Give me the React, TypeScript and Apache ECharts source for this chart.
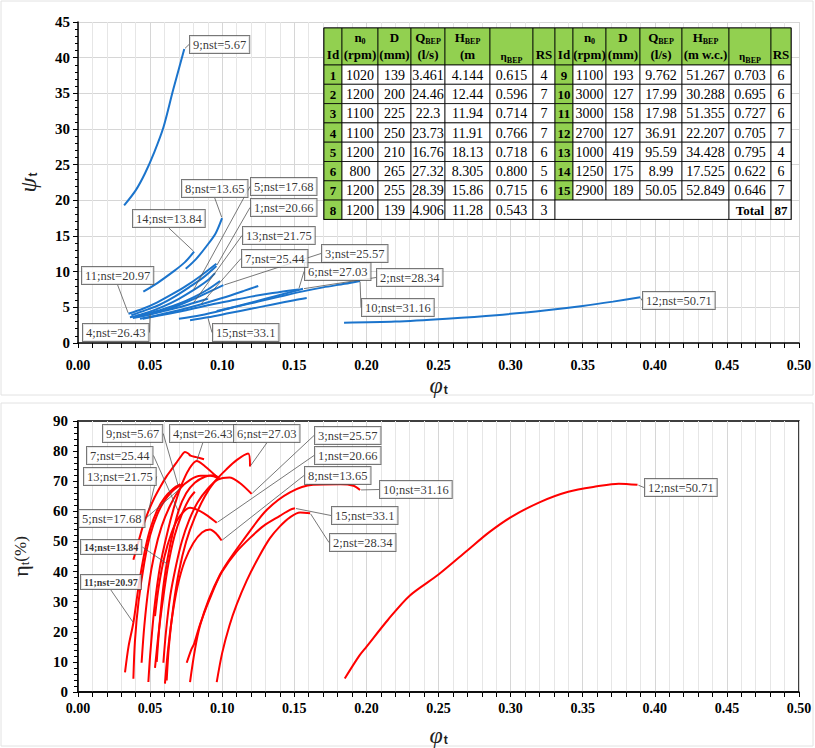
import React, { useEffect, useRef } from "react";
import * as echarts from "echarts";

// ---------------- DATA ----------------
const curveIds = [1, 2, 3, 4, 5, 6, 7, 8, 9, 10, 11, 12, 13, 14, 15];
const nstValues = ["20.66", "28.34", "25.57", "26.43", "17.68", "27.03", "25.44", "13.65", "5.67", "31.16", "20.97", "50.71", "21.75", "13.84", "33.1"];

// head coefficient psi_t vs flow coefficient phi_t
const psi1 = [[0.037, 3.9], [0.047, 4.6], [0.057, 5.4], [0.067, 6.5], [0.077, 7.8], [0.087, 9.2], [0.096, 10.8]];
const psi2 = [[0.07, 3.4], [0.085, 3.9], [0.1, 4.6], [0.115, 5.4], [0.13, 6.2], [0.145, 7.0], [0.156, 7.6]];
const psi3 = [[0.042, 3.7], [0.055, 4.3], [0.07, 5.3], [0.085, 6.6], [0.1008, 8.1]];
const psi4 = [[0.036, 3.6], [0.05, 4.2], [0.06, 4.8], [0.07, 5.5], [0.08, 6.4], [0.09, 7.5], [0.0985, 8.7]];
const psi5 = [[0.04, 3.8], [0.05, 4.4], [0.06, 5.2], [0.07, 6.2], [0.08, 7.4], [0.09, 8.8], [0.095, 9.8]];
const psi6 = [[0.045, 3.4], [0.06, 4.0], [0.075, 4.6], [0.09, 5.3], [0.105, 5.9], [0.12, 6.5], [0.135, 7.0], [0.153, 7.5]];
const psi7 = [[0.043, 3.4], [0.055, 3.9], [0.07, 4.6], [0.085, 5.4], [0.1, 6.3], [0.115, 7.3], [0.125, 8.0]];
const psi8 = [[0.0747, 10.4], [0.082, 11.8], [0.0892, 13.6], [0.0955, 15.4], [0.0999, 17.5]];
const psi9 = [[0.032, 19.3], [0.04, 21.4], [0.0465, 23.8], [0.053, 26.8], [0.0592, 30.2], [0.066, 35.5], [0.0737, 41.2]];
const psi10 = [[0.0962, 4.5], [0.11, 5.1], [0.125, 5.8], [0.14, 6.5], [0.155, 7.2], [0.17, 7.8], [0.185, 8.3], [0.1956, 8.7]];
const psi11 = [[0.035, 4.1], [0.045, 4.8], [0.055, 5.7], [0.065, 6.8], [0.075, 8.0], [0.085, 9.4], [0.096, 11.1]];
const psi12 = [[0.1845, 2.85], [0.22, 3.0], [0.2557, 3.4], [0.29, 3.9], [0.325, 4.6], [0.35, 5.2], [0.371, 5.8], [0.39, 6.4]];
const psi13 = [[0.038, 3.5], [0.05, 4.0], [0.06, 4.5], [0.07, 5.0], [0.08, 5.6], [0.09, 6.2]];
const psi14 = [[0.0453, 7.2], [0.055, 8.4], [0.066, 10.0], [0.074, 11.3], [0.0805, 12.8]];
const psi15 = [[0.0777, 3.2], [0.09, 3.6], [0.105, 4.2], [0.12, 4.8], [0.135, 5.4], [0.15, 6.0], [0.1586, 6.3]];

// efficiency eta_t (%) vs flow coefficient phi_t
const eta1 = [[0.0534, 25.2], [0.056, 35], [0.06, 45], [0.065, 53], [0.07, 58], [0.0777, 61.2], [0.085, 60], [0.09, 58.5], [0.0962, 56.2]];
const eta2 = [[0.0962, 3.3], [0.1, 13], [0.105, 22], [0.11, 29], [0.117, 37], [0.125, 44.5], [0.133, 51], [0.14, 55], [0.147, 58], [0.154, 59.6], [0.161, 59.4]];
const eta3 = [[0.0592, 9.7], [0.061, 20], [0.064, 32], [0.068, 42], [0.072, 50], [0.077, 57], [0.083, 63], [0.09, 67.5], [0.097, 70.5], [0.105, 71.2], [0.112, 69.5], [0.1204, 65.8]];
const eta4 = [[0.0488, 3.3], [0.05, 12], [0.053, 28], [0.057, 42], [0.062, 53], [0.067, 62], [0.072, 69], [0.077, 74], [0.0823, 76.7], [0.088, 75], [0.0962, 71.5]];
const eta5 = [[0.0441, 9.7], [0.046, 22], [0.049, 35], [0.053, 46], [0.058, 55], [0.064, 62], [0.0707, 67.5], [0.078, 70.5], [0.085, 71.8], [0.092, 71.8], [0.097, 71]];
const eta6 = [[0.0615, 3.8], [0.063, 15], [0.066, 28], [0.07, 40], [0.075, 50], [0.081, 58], [0.088, 65], [0.095, 70], [0.103, 74], [0.11, 77], [0.118, 79.2], [0.1193, 74.9]];
const eta7 = [[0.0546, 10], [0.057, 25], [0.06, 38], [0.064, 49], [0.0696, 60], [0.075, 66], [0.081, 69.5], [0.088, 71.5], [0.094, 72], [0.098, 71]];
const eta8 = [[0.0603, 2.8], [0.062, 12], [0.065, 24], [0.069, 35], [0.074, 43.5], [0.08, 49.5], [0.086, 53], [0.0915, 54], [0.096, 52.5], [0.0996, 50.3]];
const eta9 = [[0.0384, 4.4], [0.0395, 17], [0.042, 30], [0.046, 43], [0.05, 52], [0.055, 59], [0.06, 63.5], [0.065, 66.5], [0.0696, 68.3], [0.073, 69]];
const eta10 = [[0.0777, 3.3], [0.0846, 22], [0.0985, 39], [0.117, 52], [0.131, 60.5], [0.147, 66.3], [0.163, 68.8], [0.182, 69], [0.191, 68.5], [0.1956, 67.1]];
const eta11 = [[0.0326, 6.5], [0.035, 15], [0.0384, 23], [0.042, 35], [0.046, 46], [0.05, 54], [0.055, 60.5], [0.06, 64.5], [0.066, 67.5], [0.071, 69]];
const eta12 = [[0.185, 4.5], [0.195, 12], [0.2, 15], [0.215, 24], [0.23, 32], [0.25, 39], [0.27, 47], [0.285, 53], [0.3, 58], [0.32, 63], [0.34, 66.5], [0.36, 68.3], [0.375, 69.2], [0.388, 68.8]];
const eta13 = [[0.0384, 43.9], [0.042, 50], [0.045, 55], [0.0488, 60], [0.053, 64.5], [0.0575, 68.5], [0.0615, 71.7], [0.065, 74], [0.068, 76], [0.071, 78], [0.0742, 79.7], [0.0765, 79.2], [0.078, 78.5], [0.082, 78], [0.0874, 77.3]];
const eta14 = [[0.0534, 8], [0.056, 20], [0.059, 31], [0.0626, 42.3], [0.067, 52], [0.072, 59], [0.077, 64], [0.081, 66.5]];
const eta15 = [[0.0754, 9.7], [0.0785, 14], [0.0805, 16], [0.085, 23], [0.094, 34], [0.1, 40], [0.11, 46.6], [0.12, 51.5], [0.1285, 55.1], [0.14, 58.5], [0.147, 60.5], [0.1505, 61]];

const psiCurves = [psi1, psi2, psi3, psi4, psi5, psi6, psi7, psi8, psi9, psi10, psi11, psi12, psi13, psi14, psi15];
const etaCurves = [eta1, eta2, eta3, eta4, eta5, eta6, eta7, eta8, eta9, eta10, eta11, eta12, eta13, eta14, eta15];

// which point of each curve the annotation points at (-1 = last point)
const psiAnchorIdx = [-1, -1, -1, 1, 4, -1, 3, -1, -1, -1, 0, -1, 4, -1, 1];
const etaAnchorIdx = [-1, -1, -1, 8, 6, -1, 4, -1, 8, -1, 2, -1, 3, 3, -1];

// pump table
const tabN0 = ["1020", "1200", "1100", "1100", "1200", "800", "1200", "1200", "1100", "3000", "3000", "2700", "1000", "1250", "2900"];
const tabD = ["139", "200", "225", "250", "210", "265", "255", "139", "193", "127", "158", "127", "419", "175", "189"];
const tabQ = ["3.461", "24.46", "22.3", "23.73", "16.76", "27.32", "28.39", "4.906", "9.762", "17.99", "17.98", "36.91", "95.59", "8.99", "50.05"];
const tabH = ["4.144", "12.44", "11.94", "11.91", "18.13", "8.305", "15.86", "11.28", "51.267", "30.288", "51.355", "22.207", "34.428", "17.525", "52.849"];
const tabEta = ["0.615", "0.596", "0.714", "0.766", "0.718", "0.800", "0.715", "0.543", "0.703", "0.695", "0.727", "0.705", "0.795", "0.622", "0.646"];
const tabRS = [4, 7, 7, 7, 6, 5, 6, 3, 6, 6, 6, 7, 4, 6, 7];

// ---------------- LAYOUT ----------------
const topLabelPos = [[251, 199], [377, 269], [322, 245], [83, 324], [251, 178], [305, 263], [242, 250], [182, 180], [190, 36], [362, 299], [82, 267], [643, 292], [243, 227], [133, 210], [213, 324]];
const botLabelPos = [[315, 447], [330, 534], [315, 427], [170, 425], [79, 510], [234, 425], [87, 447], [305, 467], [103, 425], [380, 481], [81, 575], [645, 479], [84, 468], [81, 540], [332, 507]];
const botSmallLabels = [11, 14];

const SERIF = "'Liberation Serif', 'Times New Roman', serif";
const BLUE = "#1b74cc";
const RED = "#ff0000";
const GREEN = "#92d050";

function buildTable(): any[] {
  const els: any[] = [];
  const leftCols = [324, 342, 378, 411, 445, 490, 533, 555];
  const rightCols = [555, 573, 606, 640, 682, 729, 771, 791];
  const hTop = 28, hBot = 65, rowH = 19.3;
  els.push({ type: "rect", shape: { x: 324, y: hTop, width: 467, height: hBot - hTop + rowH * 8 }, style: { fill: "#fff", stroke: "#000", lineWidth: 1.2 }, z: 20 });
  const bold = (s: number) => ({ fontFamily: SERIF, fontWeight: "bold", fontSize: s });
  const rich = {
    b: { ...bold(13), fill: "#000", lineHeight: 16 },
    s: { ...bold(8), fill: "#000", lineHeight: 8, verticalAlign: "bottom" },
    e: { fontFamily: SERIF, fontWeight: "bold", fontSize: 11, fill: "#000", lineHeight: 16 },
  };
  const txt = (x: number, y: number, text: string, style: any = {}) =>
    els.push({ type: "text", x, y, z: 22, style: { text, align: "center", verticalAlign: "middle", fill: "#000", fontFamily: SERIF, fontSize: 14, rich, ...style } });
  const cell = (x0: number, x1: number, y0: number, h: number, fill: string) =>
    els.push({ type: "rect", shape: { x: x0, y: y0, width: x1 - x0, height: h }, style: { fill, stroke: "#000", lineWidth: 0.8 }, z: 21 });

  [leftCols, rightCols].forEach((cols, t) => {
    for (let c = 0; c < 7; c++) cell(cols[c], cols[c + 1], hTop, hBot - hTop, GREEN);
    const mid = (c: number) => (cols[c] + cols[c + 1]) / 2;
    const l1 = 37, l2 = 54;
    txt(mid(0), l2, "{b|Id}");
    txt(mid(1), l1, "{b|n}{s|0}");
    txt(mid(1), l2, "{b|(rpm)}");
    txt(mid(2), l1, "{b|D}");
    txt(mid(2), l2, "{b|(mm)}");
    txt(mid(3), l1, "{b|Q}{s|BEP}");
    txt(mid(3), l2, "{b|(l/s)}");
    txt(mid(4), l1, "{b|H}{s|BEP}");
    txt(mid(4), l2, t === 0 ? "{b|(m}" : "{b|(m w.c.)}");
    txt(mid(5), l2 + 2, "{e|η}{s|BEP}");
    txt(mid(6), l2, "{b|RS}");
    const start = t === 0 ? 0 : 8;
    const count = t === 0 ? 8 : 7;
    for (let r = 0; r < count; r++) {
      const i = start + r;
      const y0 = hBot + r * rowH;
      const yc = y0 + rowH / 2 + 0.5;
      cell(cols[0], cols[1], y0, rowH, GREEN);
      for (let c = 1; c < 7; c++) cell(cols[c], cols[c + 1], y0, rowH, "#fff");
      txt(mid(0), yc, String(curveIds[i]), { fontWeight: "bold", fontSize: 13 });
      txt(mid(1), yc, tabN0[i]);
      txt(mid(2), yc, tabD[i]);
      txt(mid(3), yc, tabQ[i]);
      txt(mid(4), yc, tabH[i]);
      txt(mid(5), yc, tabEta[i]);
      txt(mid(6), yc, String(tabRS[i]));
    }
    if (t === 1) {
      const y0 = hBot + 7 * rowH;
      const yc = y0 + rowH / 2 + 0.5;
      cell(cols[0], cols[5], y0, rowH, "#fff");
      cell(cols[5], cols[6], y0, rowH, "#fff");
      cell(cols[6], cols[7], y0, rowH, "#fff");
      txt(mid(5), yc, "Total", { fontWeight: "bold", fontSize: 13 });
      txt(mid(6), yc, String(tabRS.reduce((a, b) => a + b, 0)), { fontWeight: "bold", fontSize: 13 });
    }
  });
  return els;
}

function xAxisCfg(gridIndex: number, margin: number, nameGap: number) {
  return {
    type: "value",
    gridIndex,
    min: 0,
    max: 0.5,
    interval: 0.05,
    name: "{a|φ}{b|t}",
    nameLocation: "middle",
    nameGap,
    nameTextStyle: {
      rich: {
        a: { fontFamily: SERIF, fontStyle: "italic", fontSize: 24, color: "#222" },
        b: { fontFamily: "'Liberation Sans', sans-serif", fontWeight: "bold", fontSize: 12, color: "#222", padding: [10, 0, 0, 1] },
      },
    },
    axisLine: { show: true, onZero: false, lineStyle: { color: "#000", width: 1.5 } },
    axisTick: { show: true, length: 5, lineStyle: { color: "#000" } },
    minorTick: { show: true, splitNumber: 5, length: 5, lineStyle: { color: "#000" } },
    axisLabel: { margin, color: "#000", fontFamily: SERIF, fontWeight: "bold", fontSize: 14, formatter: (v: number) => v.toFixed(2) },
    splitLine: { show: true, lineStyle: { color: "#d6d6d6", width: 1 } },
    minorSplitLine: { show: true, lineStyle: { color: "#e6e6e6", width: 1 } },
  };
}

function anchorSeries(curves: number[][][], idxs: number[], pos: number[][], xi: number, small: number[]) {
  return {
    type: "scatter",
    xAxisIndex: xi,
    yAxisIndex: xi,
    symbolSize: 2,
    itemStyle: { color: "rgba(0,0,0,0)" },
    silent: true,
    z: 10,
    data: curves.map((c, i) => {
      const k = idxs[i] < 0 ? c.length - 1 : idxs[i];
      const isSmall = small.includes(curveIds[i]);
      return {
        value: c[k],
        name: `${curveIds[i]};nst=${nstValues[i]}`,
        label: isSmall ? { fontSize: 10, fontWeight: "bold", padding: [2, 3] } : undefined,
      };
    }),
    label: {
      show: true,
      formatter: "{b}",
      color: "#000",
      fontFamily: SERIF,
      fontSize: 12.5,
      backgroundColor: "#fff",
      borderColor: "#555",
      borderWidth: 1,
      padding: [2, 3],
    },
    labelLine: { show: true, lineStyle: { color: "#555", width: 0.8 } },
    labelLayout: (p: any) => ({ x: pos[p.dataIndex][0], y: pos[p.dataIndex][1], align: "left", verticalAlign: "top" }),
  };
}

export default function App() {
  const ref = useRef<HTMLDivElement>(null);
  useEffect(() => {
    const chart = echarts.init(ref.current!, null, { renderer: "svg" });
    const series: any[] = [];
    psiCurves.forEach((c, i) =>
      series.push({ type: "line", name: "psi" + curveIds[i], xAxisIndex: 0, yAxisIndex: 0, data: c, smooth: 0.3, showSymbol: false, symbol: "none", silent: true, z: 3, lineStyle: { color: BLUE, width: 2 }, itemStyle: { color: BLUE } })
    );
    etaCurves.forEach((c, i) =>
      series.push({ type: "line", name: "eta" + curveIds[i], xAxisIndex: 1, yAxisIndex: 1, data: c, smooth: 0.3, showSymbol: false, symbol: "none", silent: true, z: 3, lineStyle: { color: RED, width: 2 }, itemStyle: { color: RED } })
    );
    series.push(anchorSeries(psiCurves, psiAnchorIdx, topLabelPos, 0, []));
    series.push(anchorSeries(etaCurves, etaAnchorIdx, botLabelPos, 1, botSmallLabels));

    const option: any = {
      animation: false,
      backgroundColor: "#fff",
      grid: [
        { left: 78, right: 16, top: 22, height: 321, containLabel: false },
        { left: 78, right: 16, top: 421, height: 281, containLabel: false, show: true, borderColor: "#000", borderWidth: 1.5, backgroundColor: "transparent" },
      ],
      xAxis: [xAxisCfg(0, 15, 27), xAxisCfg(1, 9, 31)],
      yAxis: [
        {
          type: "value",
          gridIndex: 0,
          min: 0,
          max: 45,
          interval: 5,
          name: "{a|ψ}{b|t}",
          nameLocation: "middle",
          nameRotate: 90,
          nameGap: 38,
          nameTextStyle: {
            rich: {
              a: { fontFamily: SERIF, fontStyle: "italic", fontSize: 24, color: "#222" },
              b: { fontFamily: "'Liberation Sans', sans-serif", fontWeight: "bold", fontSize: 12, color: "#222", padding: [10, 0, 0, 1] },
            },
          },
          axisLine: { show: true, lineStyle: { color: "#000", width: 1.5 } },
          axisTick: { show: true, length: 5, lineStyle: { color: "#000" } },
          minorTick: { show: true, splitNumber: 5, length: 3, lineStyle: { color: "#000" } },
          axisLabel: { margin: 8, color: "#000", fontFamily: SERIF, fontWeight: "bold", fontSize: 15 },
          splitLine: { show: true, lineStyle: { color: "#d6d6d6", width: 1 } },
        },
        {
          type: "value",
          gridIndex: 1,
          min: 0,
          max: 90,
          interval: 10,
          name: "{a|η}{b|t}{c|(%)}",
          nameLocation: "middle",
          nameRotate: 90,
          nameGap: 47,
          nameTextStyle: {
            rich: {
              a: { fontFamily: SERIF, fontSize: 22, color: "#222" },
              b: { fontFamily: SERIF, fontSize: 13, color: "#222", padding: [9, 0, 0, 0] },
              c: { fontFamily: SERIF, fontSize: 17, color: "#222" },
            },
          },
          axisLine: { show: true, lineStyle: { color: "#000", width: 1.5 } },
          axisTick: { show: true, length: 5, lineStyle: { color: "#000" } },
          minorTick: { show: true, splitNumber: 5, length: 4, lineStyle: { color: "#000" } },
          axisLabel: { margin: 10, color: "#000", fontFamily: SERIF, fontWeight: "bold", fontSize: 15 },
          splitLine: { show: false },
        },
      ],
      graphic: [
        { type: "rect", shape: { x: 1, y: 1, width: 812, height: 394 }, style: { fill: "none", stroke: "#e2e2e2", lineWidth: 1 }, z: 0, silent: true },
        { type: "rect", shape: { x: 1, y: 403, width: 812, height: 343 }, style: { fill: "none", stroke: "#e2e2e2", lineWidth: 1 }, z: 0, silent: true },
        ...buildTable(),
      ],
      series,
    };
    chart.setOption(option);
    return () => chart.dispose();
  }, []);
  return <div ref={ref} style={{ position: "fixed", left: 0, top: 0, width: 815, height: 748, background: "#fff" }} />;
}
